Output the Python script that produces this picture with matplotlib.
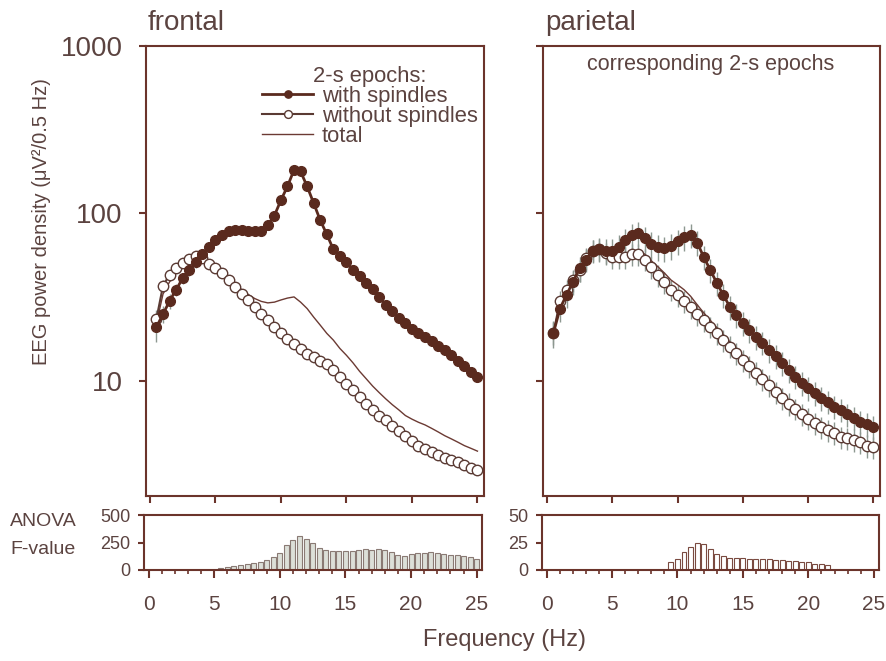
import numpy as np
import matplotlib.pyplot as plt
from matplotlib.ticker import MultipleLocator, NullLocator

plt.rcParams['font.family'] = ['Liberation Sans', 'DejaVu Sans']

# frequency bins (Hz)
freq = np.arange(0.5, 25.01, 0.5)

# frontal spectra (uV^2/0.5 Hz)
fr_with = [21, 25, 30, 35, 41, 46, 51, 57, 63, 69, 74, 78, 80, 80, 79, 78, 79, 85, 97, 120,
           145, 182, 178, 145, 115, 91, 75, 61, 56, 51, 46, 42.5, 38.5, 35.5, 31.5, 28.5, 26, 23.8,
           22, 20.3, 19.3, 18.3, 17.2, 16.2, 15.2, 14.2, 13.2, 12.2, 11.3, 10.5]
fr_without = [23.5, 37, 43, 47.5, 50.5, 53.5, 56, 54, 50, 47, 44, 40, 36.5, 33, 30.5, 27.5, 25, 23,
              21, 19.2, 17.8, 16.6, 15.5, 14.5, 13.8, 13.2, 12.6, 11.6, 10.5, 9.6, 8.8, 8.0, 7.3, 6.7,
              6.2, 5.8, 5.4, 5.0, 4.65, 4.35, 4.1, 3.9, 3.75, 3.6, 3.48, 3.38, 3.26, 3.12, 3.03, 2.95]
fr_total = [22, 33, 39, 44, 48, 51.5, 54.5, 54.5, 51, 47, 44.5, 41, 38, 35, 32.8, 31, 29.8, 29.2,
            29.5, 30.4, 31.2, 31.7, 29.5, 27, 24, 21.5, 19.2, 17.5, 15.6, 14.2, 12.8, 11.4, 10.3,
            9.3, 8.5, 7.8, 7.2, 6.7, 6.2, 5.9, 5.65, 5.45, 5.2, 4.95, 4.7, 4.5, 4.3, 4.1, 3.95, 3.8]
fr_with_sem = [4, 3, 3, 3, 3, 3.5, 3.5, 4, 4, 4.5, 5, 5, 5, 5, 5, 5, 5, 5.5, 6, 7, 9, 11, 11, 9, 7,
               5.5, 4.5, 3.7, 3.4, 3.1, 2.8, 2.6, 2.3, 2.1, 1.9, 1.7, 1.6, 1.4, 1.3, 1.2, 1.15, 1.1,
               1.0, 0.97, 0.9, 0.85, 0.8, 0.73, 0.68, 0.63]
fr_without_sem = [3, 3, 3, 3, 3, 3, 3, 3, 2.8, 2.6, 2.4, 2.2, 2, 1.8, 1.7, 1.5, 1.4, 1.3, 1.2, 1.1,
                  1.0, 0.95, 0.9, 0.85, 0.8, 0.75, 0.7, 0.65, 0.6, 0.55, 0.5, 0.45, 0.42, 0.38, 0.35,
                  0.33, 0.31, 0.29, 0.27, 0.25, 0.24, 0.23, 0.22, 0.21, 0.2, 0.2, 0.19, 0.18, 0.18, 0.17]

# parietal spectra
pa_with = [19.3, 27, 32.6, 39, 47, 53, 60, 61, 60, 60, 63, 69, 74, 76, 71, 66, 63, 62, 64, 68,
           72, 74, 67, 55, 46, 38.5, 32.6, 27.7, 24.8, 22.2, 20.2, 18.3, 16.9, 15.3, 14, 12.8,
           11.6, 10.6, 9.7, 9.1, 8.5, 7.9, 7.5, 7.0, 6.7, 6.3, 6.0, 5.7, 5.5, 5.3]
pa_without = [19.3, 30, 35, 40, 46, 54, 60, 61, 58, 55, 55, 55, 57, 57, 53, 48, 43, 39, 35, 32.5,
              30, 27.5, 25, 23, 21, 19.2, 17.5, 16, 14.6, 13.3, 12.2, 11.2, 10.2, 9.4, 8.6, 7.9,
              7.3, 6.8, 6.3, 5.95, 5.6, 5.3, 5.1, 4.9, 4.6, 4.55, 4.45, 4.3, 4.1, 4.0]
pa_total = [19.3, 29, 34, 40, 46, 53, 59, 60, 58, 56, 56, 57, 59, 60, 57, 52, 48, 44, 40, 37.5,
            35, 32, 28.5, 25.5, 23, 20.8, 18.8, 17.1, 15.5, 14.1, 12.9, 11.8, 10.8, 9.9, 9.1, 8.3,
            7.7, 7.1, 6.6, 6.2, 5.8, 5.5, 5.3, 5.05, 4.8, 4.7, 4.6, 4.4, 4.2, 4.1]
pa_with_sem = [3.5, 4.5, 5.5, 6.5, 8, 8.5, 9.5, 10, 10, 10, 11, 12, 13, 13, 12, 11.5, 11, 10.5, 11,
               11.5, 12, 12, 11, 9, 7.5, 6.3, 5.3, 4.5, 4, 3.6, 3.3, 3, 2.7, 2.5, 2.3, 2.1, 1.9,
               1.7, 1.6, 1.5, 1.4, 1.3, 1.2, 1.1, 1.05, 1.0, 0.95, 0.9, 0.88, 0.85]
pa_without_sem = [3, 4.5, 5.2, 6, 7, 8, 9, 9, 8.7, 8.3, 8.3, 8.3, 8.5, 8.5, 8, 7.2, 6.5, 5.8, 5.2,
                  4.9, 4.5, 4.1, 3.7, 3.4, 3.1, 2.9, 2.6, 2.4, 2.2, 2.0, 1.8, 1.7, 1.5, 1.4, 1.3,
                  1.2, 1.1, 1.0, 0.95, 0.9, 0.85, 0.8, 0.77, 0.74, 0.7, 0.68, 0.67, 0.65, 0.62, 0.6]

# ANOVA F-values
fr_F = [0, 0, 0, 0, 0, 0, 0, 0, 1, 3, 15, 24, 36, 45, 55, 62, 76, 91, 115, 158, 227, 273, 309,
        279, 248, 197, 182, 176, 170, 173, 176, 182, 191, 182, 188, 182, 167, 136, 130, 145, 152,
        152, 161, 152, 145, 139, 136, 127, 115, 100]
pa_F = [0, 0, 0, 0, 0, 0, 0, 0, 0, 0, 0, 0, 0, 0, 0, 0, 0, 0, 7, 10.3, 16, 21, 24.8, 23.5, 19.4,
        15, 12.3, 11.3, 10.6, 10.6, 10.3, 10.3, 9.7, 9.7, 8.7, 8.7, 8, 8, 7.4, 7.1, 5.8, 5.5, 4.8,
        0, 0, 0, 0, 0, 0, 0]

AX = '#6b342b'
TXT = '#5b4340'
DOT = '#5a2a1e'
ERR = '#8d9890'

W, Hh = 886, 661
fig = plt.figure(figsize=(W / 100, Hh / 100), dpi=100)


def box(x0, y0, x1, y1):
    return [x0 / W, 1 - y1 / Hh, (x1 - x0) / W, (y1 - y0) / Hh]


ax_fr = fig.add_axes(box(146, 46, 484, 496))
ax_pa = fig.add_axes(box(543, 46, 880, 496), sharey=ax_fr)
bx_fr = fig.add_axes(box(144, 515, 482, 570))
bx_pa = fig.add_axes(box(542, 515, 879, 570))


def style(ax):
    for s in ax.spines.values():
        s.set_color(AX)
        s.set_linewidth(1.5)
    ax.tick_params(colors=AX, labelcolor=TXT, direction='out', width=1.5)


def spectra(ax, w, wo, tot, w_sem, wo_sem):
    ax.errorbar(freq, w, yerr=w_sem, fmt='none', ecolor=ERR, elinewidth=1, zorder=1)
    ax.errorbar(freq, wo, yerr=wo_sem, fmt='none', ecolor=ERR, elinewidth=1, zorder=1)
    ax.plot(freq, tot, color='#6b3a33', lw=1, zorder=2, label='total')
    ax.plot(freq, wo, '-o', color='#5a3a33', lw=1.5, ms=7.5, mfc='white', mec='#5a3a33',
            mew=1, zorder=3, label='without spindles')
    ax.plot(freq, w, '-o', color=DOT, lw=2, ms=7, mfc=DOT, mec=DOT, zorder=4,
            label='with spindles')
    ax.set_yscale('log')
    ax.set_ylim(2.05, 1000)
    ax.set_xlim(-0.3, 25.5)
    ax.set_yticks([10, 100, 1000])
    ax.yaxis.set_minor_locator(NullLocator())
    ax.xaxis.set_major_locator(MultipleLocator(5))
    style(ax)
    ax.tick_params(axis='both', length=5)
    ax.tick_params(axis='x', labelbottom=False)


spectra(ax_fr, fr_with, fr_without, fr_total, fr_with_sem, fr_without_sem)
spectra(ax_pa, pa_with, pa_without, pa_total, pa_with_sem, pa_without_sem)
ax_fr.set_yticklabels(['10', '100', '1000'])
ax_fr.tick_params(axis='y', labelsize=20, pad=12)
ax_pa.tick_params(axis='y', labelleft=False)

h, l = ax_fr.get_legend_handles_labels()
order = [2, 1, 0]
leg = ax_fr.legend([h[i] for i in order], [l[i] for i in order], title='2-s epochs:',
                   loc='upper right', bbox_to_anchor=(1.0, 0.97), frameon=False, fontsize=15.8,
                   title_fontsize=15.8, labelspacing=-0.05, handlelength=2.3, handletextpad=0.4,
                   borderpad=0.2, borderaxespad=0.1, markerscale=0.75)
for t in leg.get_texts():
    t.set_color(TXT)
leg.get_title().set_color(TXT)

ax_pa.text(0.496, 0.958, 'corresponding 2-s epochs', transform=ax_pa.transAxes, ha='center',
           va='center', fontsize=15.5, color=TXT)


def fbars(ax, vals, top, ticks, face, edge):
    v = np.array(vals, dtype=float)
    m = v > 0
    ax.bar(freq[m], v[m], width=0.38, color=face, edgecolor=edge, linewidth=0.8)
    ax.set_ylim(0, top)
    ax.set_yticks(ticks)
    ax.set_xlim(-0.35, 25.4)
    ax.xaxis.set_major_locator(MultipleLocator(5))
    ax.xaxis.set_minor_locator(MultipleLocator(1))
    style(ax)
    ax.tick_params(axis='x', which='major', length=6, labelsize=15, pad=12)
    ax.tick_params(axis='x', which='minor', length=3, width=1.2, colors=AX)
    ax.tick_params(axis='y', length=4, labelsize=13, pad=6)


fbars(bx_fr, fr_F, 500, [0, 250, 500], '#dcdfd8', '#8a7a74')
fbars(bx_pa, pa_F, 50, [0, 25, 50], 'white', '#7a4a40')

fig.text(148 / W, 1 - 30 / Hh, 'frontal', fontsize=20, color=TXT, va='baseline')
fig.text(545 / W, 1 - 30 / Hh, 'parietal', fontsize=20, color=TXT, va='baseline')
fig.text(42 / W, 1 - 222 / Hh, 'EEG power density (μV²/0.5 Hz)', rotation=90, ha='center',
         va='center', fontsize=14.5, color=TXT)
fig.text(505 / W, 1 - 640 / Hh, 'Frequency (Hz)', ha='center', va='center', fontsize=17,
         color=TXT)
fig.text(10 / W, 1 - 522 / Hh, 'ANOVA', va='center', fontsize=14, color=TXT)
fig.text(10 / W, 1 - 550 / Hh, 'F-value', va='center', fontsize=14, color=TXT)

fig.savefig('out.png', dpi=100)
